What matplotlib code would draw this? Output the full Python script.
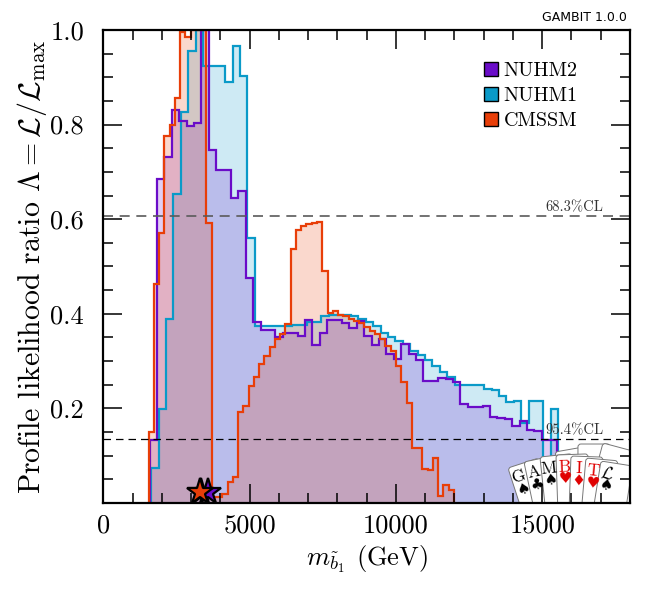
import numpy as np
import matplotlib
matplotlib.use("Agg")
import matplotlib.pyplot as plt
from matplotlib.patches import Patch, FancyBboxPatch
from matplotlib.ticker import MultipleLocator, FixedLocator
from matplotlib.transforms import Affine2D

matplotlib.rcParams['font.family'] = 'serif'
matplotlib.rcParams['font.serif'] = ['cmr10']
matplotlib.rcParams['mathtext.fontset'] = 'cm'
matplotlib.rcParams['axes.unicode_minus'] = False
matplotlib.rcParams['axes.formatter.use_mathtext'] = True

# profile likelihood ratio per bin (bin start GeV, bin width GeV)
cmssm_start, cmssm_width = 1540, 180
cmssm_like = [0.15, 0.462, 0.57, 0.775, 0.80, 0.857, 0.995, 0.986, 1.0, 1.0,
              1.0, 0.593, 0.013, 0.013, 0.02, 0.044, 0.055, 0.192, 0.205, 0.247,
              0.267, 0.293, 0.31, 0.33, 0.346, 0.358, 0.378, 0.538, 0.577, 0.585,
              0.59, 0.593, 0.595, 0.49, 0.402, 0.405, 0.397, 0.395, 0.39, 0.385,
              0.38, 0.372, 0.364, 0.358, 0.346, 0.332, 0.321, 0.29, 0.255, 0.211,
              0.116, 0.116, 0.072, 0.07, 0.095, 0.015, 0.037, 0.028]

nuhm2_start, nuhm2_width = 1575, 253
nuhm2_like = [0.133, 0.684, 0.732, 0.831, 0.807, 0.796, 0.803, 1.0, 0.747, 0.703,
              0.703, 0.645, 0.66, 0.476, 0.383, 0.366, 0.366, 0.35, 0.36, 0.36,
              0.353, 0.387, 0.333, 0.36, 0.387, 0.387, 0.381, 0.37, 0.385, 0.354,
              0.335, 0.346, 0.316, 0.305, 0.336, 0.316, 0.302, 0.258, 0.257, 0.265,
              0.262, 0.255, 0.209, 0.202, 0.203, 0.204, 0.182, 0.179, 0.178, 0.163,
              0.173, 0.155, 0.152, 0.133, 0.133]

nuhm1_start, nuhm1_width = 1630, 253
nuhm1_like = [0.075, 0.198, 0.39, 0.654, 0.826, 0.956, 1.0, 0.923, 0.923, 0.923,
              0.891, 0.966, 0.902, 0.561, 0.374, 0.375, 0.375, 0.375, 0.375, 0.377,
              0.377, 0.383, 0.383, 0.395, 0.397, 0.398, 0.398, 0.395, 0.39, 0.383,
              0.375, 0.36, 0.35, 0.343, 0.336, 0.322, 0.312, 0.302, 0.29, 0.277,
              0.266, 0.25, 0.25, 0.25, 0.25, 0.241, 0.238, 0.227, 0.213, 0.215,
              0.17, 0.215, 0.215, 0.05, 0.199]

# best-fit points (GeV)
best_fit = {"NUHM1": 3330, "NUHM2": 3570, "CMSSM": 3300}

cl_levels = [0.6065, 0.1353]
cl_labels = ["68.3%CL", "95.4%CL"]

labels = ["NUHM2", "NUHM1", "CMSSM"]
color_map = {"NUHM2": "#6A0CC8", "NUHM1": "#0A9AC8", "CMSSM": "#E83E08"}

fig = plt.figure(figsize=(6.5, 6), dpi=100)
ax = fig.add_axes([0.1592, 0.1617, 0.81, 0.7883])

series = [("NUHM1", nuhm1_start, nuhm1_width, nuhm1_like),
          ("NUHM2", nuhm2_start, nuhm2_width, nuhm2_like),
          ("CMSSM", cmssm_start, cmssm_width, cmssm_like)]

for name, start, width, like in series:
    edges = start + width * np.arange(len(like) + 1)
    ax.stairs(like, edges, baseline=0, fill=True, color=color_map[name],
              alpha=0.2, lw=0, zorder=1)
for name, start, width, like in series:
    edges = start + width * np.arange(len(like) + 1)
    ax.stairs(like, edges, baseline=0, color=color_map[name], lw=1.6, zorder=2)

# CL lines
ax.axhline(cl_levels[0], color="#5a5a5a", lw=1.2, dashes=(6, 4), zorder=3)
ax.axhline(cl_levels[1], color="black", lw=0.9, dashes=(6, 4), zorder=3)
for lev, lab in zip(cl_levels, cl_labels):
    ax.text(17100, lev + 0.004, lab, ha="right", va="bottom", fontsize=10.5,
            color="#333333", zorder=3)

# best-fit stars
for name in ["NUHM1", "NUHM2", "CMSSM"]:
    ax.plot(best_fit[name], 0.024, marker="*", markersize=20,
            markerfacecolor=color_map[name], markeredgecolor="black",
            markeredgewidth=1.6, clip_on=False, zorder=6)

ax.set_xlim(0, 18000)
ax.set_ylim(0, 1)
ax.xaxis.set_major_locator(FixedLocator([0, 5000, 10000, 15000]))
ax.xaxis.set_minor_locator(MultipleLocator(1000))
ax.yaxis.set_major_locator(FixedLocator([0.2, 0.4, 0.6, 0.8, 1.0]))
ax.yaxis.set_minor_locator(MultipleLocator(0.05))
ax.set_yticklabels(["0.2", "0.4", "0.6", "0.8", "1.0"])
ax.set_xticklabels(["0", "5000", "10000", "15000"])
ax.tick_params(which="both", direction="in", top=True, right=True,
               width=1.1, labelsize=19)
ax.tick_params(which="major", length=14)
ax.tick_params(which="minor", length=7)
ax.tick_params(axis="y", pad=14)
ax.tick_params(axis="x", pad=8)
for sp in ax.spines.values():
    sp.set_linewidth(1.6)
    sp.set_zorder(10)
ax.xaxis.set_zorder(10)
ax.yaxis.set_zorder(10)

ax.set_xlabel(r"$m_{\tilde{b}_1}$ (GeV)", fontsize=19, labelpad=4)
ax.set_ylabel(r"Profile likelihood ratio $\Lambda = \mathcal{L}/\mathcal{L}_\mathrm{max}$",
              fontsize=21.5, labelpad=1)

handles = [Patch(facecolor=color_map[n], edgecolor="black", lw=1) for n in labels]
ax.legend(handles, labels, loc="upper left", bbox_to_anchor=(0.722, 0.932),
          frameon=False, fontsize=14.5, handlelength=0.7, handleheight=0.7,
          handletextpad=0.3, labelspacing=0.34, borderpad=0, borderaxespad=0)

ax.text(0.995, 1.012, "GAMBIT 1.0.0", transform=ax.transAxes, ha="right",
        va="bottom", fontsize=9, family="DejaVu Sans")

# GAMBIT card logo in the bottom right corner (pixel-like coordinates)
ins = ax.inset_axes([0.753, 0, 0.247, 0.1437])
ins.set_xlim(500, 630)
ins.set_ylim(503, 435)
ins.axis("off")
ins.set_zorder(5)

back_cards = [(555, 452, 10), (578, 444, 0), (603, 443, -15)]
front_cards = [(508, 468, 18, "G", "\u2660", "black", "black"),
               (524, 462, 12, "A", "\u2663", "black", "black"),
               (540, 457, 6, "M", "\u2660", "black", "black"),
               (556, 455, 2, "B", "\u2665", "#e00000", "#e00000"),
               (571, 456, -2, "I", "\u2666", "#e00000", "#e00000"),
               (586, 458, -5, "T", "\u2665", "#e00000", "#e00000"),
               (601, 461, -9, r"$\mathcal{L}$", "\u2660", "black", "black")]


def card(x, y, ang):
    tr = Affine2D().rotate_deg(-ang).translate(x, y) + ins.transData
    p = FancyBboxPatch((0, 0), 32, 75, boxstyle="round,pad=0,rounding_size=3",
                       facecolor="white", edgecolor="#777777", lw=0.7,
                       transform=tr)
    ins.add_patch(p)
    return tr


for x, y, ang in back_cards:
    card(x, y, ang)
for x, y, ang, letter, suit, lc, sc in front_cards:
    tr = card(x, y, ang)
    ins.text(8, 12, letter, transform=tr, rotation=ang, ha="center",
             va="center", fontsize=12.5, color=lc)
    ins.text(8.5, 24, suit, transform=tr, rotation=ang, ha="center",
             va="center", fontsize=11, color=sc, family="DejaVu Sans")

fig.savefig("out.png", dpi=100)
